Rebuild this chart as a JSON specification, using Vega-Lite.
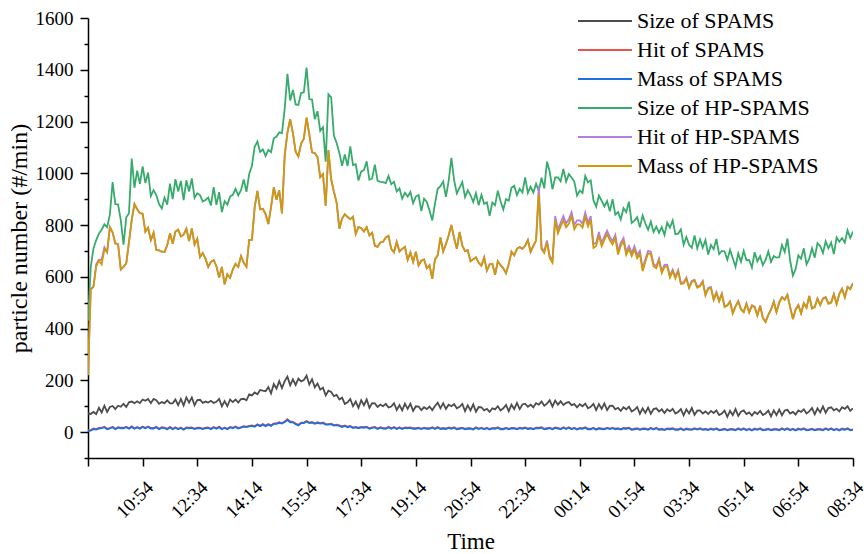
{
  "$schema": "https://vega.github.io/schema/vega-lite/v6.json",
  "width": 765,
  "height": 440,
  "autosize": {"type": "none"},
  "padding": {"left": 88, "top": 18, "right": 14, "bottom": 96},
  "background": "white",
  "config": {
    "view": {"stroke": null},
    "font": "Liberation Serif",
    "axis": {"labelFont": "Liberation Serif", "titleFont": "Liberation Serif"},
    "legend": {"labelFont": "Liberation Serif"}
  },
  "datasets": {
    "series": [
      {"k": "a", "name": "Size of SPAMS"},
      {"k": "b", "name": "Hit of SPAMS"},
      {"k": "c", "name": "Mass of SPAMS"},
      {"k": "d", "name": "Size of HP-SPAMS"},
      {"k": "e", "name": "Hit of HP-SPAMS"},
      {"k": "f", "name": "Mass of HP-SPAMS"}
    ]
  },
  "data": {"values": [
{"m":0,"a":72,"b":7,"c":5,"d":430,"e":222,"f":220},
{"m":5,"a":70,"b":8,"c":6,"d":637,"e":552,"f":550},
{"m":10,"a":78,"b":14,"c":12,"d":710,"e":563,"f":561},
{"m":15,"a":70,"b":12,"c":10,"d":742,"e":648,"f":640},
{"m":20,"a":94,"b":16,"c":14,"d":767,"e":666,"f":663},
{"m":25,"a":76,"b":17,"c":15,"d":782,"e":666,"f":648},
{"m":30,"a":102,"b":21,"c":19,"d":803,"e":714,"f":707},
{"m":35,"a":78,"b":13,"c":11,"d":792,"e":695,"f":695},
{"m":40,"a":97,"b":16,"c":14,"d":840,"e":793,"f":790},
{"m":45,"a":101,"b":21,"c":19,"d":966,"e":772,"f":772},
{"m":50,"a":89,"b":13,"c":11,"d":881,"e":729,"f":729},
{"m":55,"a":102,"b":19,"c":17,"d":880,"e":727,"f":727},
{"m":60,"a":98,"b":17,"c":15,"d":819,"e":628,"f":628},
{"m":65,"a":109,"b":17,"c":15,"d":724,"e":638,"f":638},
{"m":70,"a":97,"b":21,"c":19,"d":830,"e":652,"f":652},
{"m":75,"a":115,"b":15,"c":13,"d":846,"e":734,"f":734},
{"m":80,"a":118,"b":22,"c":20,"d":1057,"e":820,"f":820},
{"m":85,"a":112,"b":15,"c":13,"d":944,"e":882,"f":880},
{"m":90,"a":119,"b":20,"c":18,"d":1010,"e":861,"f":861},
{"m":95,"a":112,"b":15,"c":13,"d":959,"e":846,"f":846},
{"m":100,"a":126,"b":22,"c":20,"d":1027,"e":844,"f":844},
{"m":105,"a":121,"b":17,"c":15,"d":962,"e":775,"f":775},
{"m":110,"a":128,"b":22,"c":20,"d":1003,"e":790,"f":790},
{"m":115,"a":112,"b":16,"c":14,"d":912,"e":742,"f":742},
{"m":120,"a":128,"b":16,"c":14,"d":935,"e":770,"f":770},
{"m":125,"a":123,"b":21,"c":19,"d":916,"e":704,"f":704},
{"m":130,"a":109,"b":13,"c":11,"d":881,"e":702,"f":702},
{"m":135,"a":116,"b":19,"c":17,"d":864,"e":697,"f":697},
{"m":140,"a":112,"b":17,"c":15,"d":906,"e":696,"f":696},
{"m":145,"a":123,"b":13,"c":11,"d":879,"e":722,"f":722},
{"m":150,"a":111,"b":20,"c":18,"d":960,"e":768,"f":768},
{"m":155,"a":111,"b":13,"c":11,"d":900,"e":728,"f":728},
{"m":160,"a":126,"b":19,"c":17,"d":977,"e":775,"f":775},
{"m":165,"a":104,"b":13,"c":11,"d":930,"e":782,"f":782},
{"m":170,"a":128,"b":18,"c":16,"d":970,"e":756,"f":756},
{"m":175,"a":103,"b":11,"c":9,"d":896,"e":763,"f":763},
{"m":180,"a":134,"b":18,"c":16,"d":973,"e":786,"f":786},
{"m":185,"a":114,"b":17,"c":15,"d":930,"e":738,"f":738},
{"m":190,"a":134,"b":18,"c":16,"d":980,"e":787,"f":787},
{"m":195,"a":104,"b":14,"c":12,"d":905,"e":725,"f":725},
{"m":200,"a":124,"b":17,"c":15,"d":923,"e":747,"f":747},
{"m":205,"a":125,"b":17,"c":15,"d":916,"e":676,"f":676},
{"m":210,"a":113,"b":14,"c":12,"d":891,"e":692,"f":692},
{"m":215,"a":118,"b":17,"c":15,"d":897,"e":670,"f":670},
{"m":220,"a":114,"b":18,"c":16,"d":906,"e":638,"f":638},
{"m":225,"a":121,"b":13,"c":11,"d":876,"e":658,"f":658},
{"m":230,"a":113,"b":20,"c":18,"d":947,"e":665,"f":665},
{"m":235,"a":117,"b":15,"c":13,"d":878,"e":641,"f":641},
{"m":240,"a":128,"b":21,"c":19,"d":927,"e":597,"f":597},
{"m":245,"a":100,"b":13,"c":11,"d":850,"e":638,"f":638},
{"m":250,"a":120,"b":18,"c":16,"d":892,"e":571,"f":571},
{"m":255,"a":100,"b":13,"c":11,"d":879,"e":610,"f":610},
{"m":260,"a":126,"b":20,"c":18,"d":910,"e":596,"f":596},
{"m":265,"a":116,"b":17,"c":15,"d":917,"e":628,"f":628},
{"m":270,"a":126,"b":22,"c":20,"d":940,"e":650,"f":650},
{"m":275,"a":114,"b":16,"c":14,"d":915,"e":638,"f":638},
{"m":280,"a":128,"b":19,"c":17,"d":935,"e":680,"f":680},
{"m":285,"a":129,"b":23,"c":21,"d":976,"e":654,"f":654},
{"m":290,"a":123,"b":21,"c":19,"d":928,"e":639,"f":639},
{"m":295,"a":146,"b":24,"c":22,"d":997,"e":743,"f":743},
{"m":300,"a":142,"b":26,"c":24,"d":1029,"e":743,"f":743},
{"m":305,"a":153,"b":23,"c":21,"d":1102,"e":868,"f":868},
{"m":310,"a":146,"b":30,"c":28,"d":1123,"e":932,"f":932},
{"m":315,"a":163,"b":25,"c":23,"d":1083,"e":861,"f":861},
{"m":320,"a":160,"b":31,"c":29,"d":1092,"e":863,"f":863},
{"m":325,"a":158,"b":25,"c":23,"d":1067,"e":842,"f":842},
{"m":330,"a":174,"b":31,"c":29,"d":1090,"e":804,"f":804},
{"m":335,"a":150,"b":26,"c":24,"d":1082,"e":870,"f":870},
{"m":340,"a":186,"b":34,"c":32,"d":1135,"e":946,"f":946},
{"m":345,"a":168,"b":34,"c":32,"d":1142,"e":898,"f":898},
{"m":350,"a":197,"b":38,"c":36,"d":1158,"e":934,"f":934},
{"m":355,"a":170,"b":35,"c":33,"d":1155,"e":845,"f":845},
{"m":360,"a":197,"b":41,"c":39,"d":1250,"e":1070,"f":1070},
{"m":365,"a":214,"b":50,"c":47,"d":1384,"e":1157,"f":1157},
{"m":370,"a":181,"b":41,"c":38,"d":1281,"e":1209,"f":1209},
{"m":375,"a":204,"b":40,"c":38,"d":1322,"e":1155,"f":1155},
{"m":380,"a":182,"b":33,"c":31,"d":1266,"e":1083,"f":1083},
{"m":385,"a":207,"b":28,"c":26,"d":1264,"e":1065,"f":1065},
{"m":390,"a":196,"b":37,"c":35,"d":1310,"e":1115,"f":1115},
{"m":395,"a":201,"b":37,"c":35,"d":1313,"e":1134,"f":1134},
{"m":400,"a":218,"b":43,"c":41,"d":1408,"e":1215,"f":1215},
{"m":405,"a":184,"b":37,"c":35,"d":1287,"e":1150,"f":1150},
{"m":410,"a":204,"b":39,"c":37,"d":1285,"e":1081,"f":1081},
{"m":415,"a":173,"b":34,"c":32,"d":1209,"e":1078,"f":1078},
{"m":420,"a":188,"b":38,"c":36,"d":1240,"e":1063,"f":1063},
{"m":425,"a":164,"b":35,"c":33,"d":1164,"e":985,"f":985},
{"m":430,"a":172,"b":37,"c":35,"d":1178,"e":997,"f":997},
{"m":435,"a":142,"b":31,"c":29,"d":1045,"e":875,"f":875},
{"m":440,"a":160,"b":31,"c":29,"d":1305,"e":1090,"f":1090},
{"m":445,"a":155,"b":33,"c":31,"d":1293,"e":977,"f":977},
{"m":450,"a":139,"b":27,"c":25,"d":1146,"e":929,"f":929},
{"m":455,"a":144,"b":29,"c":27,"d":1117,"e":887,"f":887},
{"m":460,"a":126,"b":26,"c":24,"d":1079,"e":786,"f":786},
{"m":465,"a":133,"b":22,"c":20,"d":1029,"e":825,"f":825},
{"m":470,"a":109,"b":26,"c":24,"d":1073,"e":842,"f":842},
{"m":475,"a":115,"b":21,"c":19,"d":1028,"e":831,"f":831},
{"m":480,"a":128,"b":24,"c":22,"d":1104,"e":823,"f":823},
{"m":485,"a":100,"b":18,"c":16,"d":1032,"e":832,"f":832},
{"m":490,"a":118,"b":20,"c":18,"d":1035,"e":766,"f":766},
{"m":495,"a":94,"b":17,"c":15,"d":972,"e":793,"f":793},
{"m":500,"a":123,"b":20,"c":18,"d":1007,"e":788,"f":788},
{"m":505,"a":104,"b":19,"c":17,"d":1012,"e":775,"f":775},
{"m":510,"a":126,"b":21,"c":19,"d":1046,"e":792,"f":792},
{"m":515,"a":94,"b":15,"c":13,"d":975,"e":760,"f":760},
{"m":520,"a":112,"b":18,"c":16,"d":980,"e":770,"f":770},
{"m":525,"a":111,"b":20,"c":18,"d":1033,"e":720,"f":720},
{"m":530,"a":97,"b":14,"c":12,"d":971,"e":716,"f":716},
{"m":535,"a":106,"b":19,"c":17,"d":967,"e":733,"f":733},
{"m":540,"a":100,"b":16,"c":14,"d":966,"e":736,"f":736},
{"m":545,"a":109,"b":15,"c":13,"d":962,"e":752,"f":752},
{"m":550,"a":95,"b":21,"c":19,"d":990,"e":758,"f":758},
{"m":555,"a":99,"b":15,"c":13,"d":958,"e":708,"f":708},
{"m":560,"a":112,"b":20,"c":18,"d":967,"e":695,"f":695},
{"m":565,"a":86,"b":14,"c":12,"d":930,"e":735,"f":735},
{"m":570,"a":104,"b":19,"c":17,"d":942,"e":698,"f":698},
{"m":575,"a":84,"b":14,"c":12,"d":902,"e":708,"f":708},
{"m":580,"a":110,"b":18,"c":16,"d":925,"e":716,"f":716},
{"m":585,"a":90,"b":17,"c":15,"d":910,"e":665,"f":665},
{"m":590,"a":110,"b":18,"c":16,"d":928,"e":694,"f":694},
{"m":595,"a":82,"b":15,"c":13,"d":885,"e":658,"f":658},
{"m":600,"a":100,"b":15,"c":13,"d":910,"e":697,"f":697},
{"m":605,"a":99,"b":17,"c":15,"d":916,"e":644,"f":644},
{"m":610,"a":85,"b":14,"c":12,"d":854,"e":662,"f":662},
{"m":615,"a":96,"b":17,"c":15,"d":902,"e":667,"f":667},
{"m":620,"a":89,"b":15,"c":13,"d":889,"e":633,"f":633},
{"m":625,"a":99,"b":15,"c":13,"d":856,"e":645,"f":645},
{"m":630,"a":85,"b":19,"c":17,"d":818,"e":592,"f":592},
{"m":635,"a":101,"b":14,"c":12,"d":883,"e":668,"f":668},
{"m":640,"a":114,"b":20,"c":18,"d":940,"e":683,"f":683},
{"m":645,"a":92,"b":14,"c":12,"d":950,"e":752,"f":752},
{"m":650,"a":112,"b":16,"c":14,"d":968,"e":698,"f":698},
{"m":655,"a":90,"b":14,"c":12,"d":909,"e":726,"f":726},
{"m":660,"a":106,"b":18,"c":16,"d":970,"e":760,"f":760},
{"m":665,"a":100,"b":15,"c":13,"d":1060,"e":800,"f":800},
{"m":670,"a":108,"b":19,"c":17,"d":973,"e":750,"f":750},
{"m":675,"a":92,"b":13,"c":11,"d":922,"e":708,"f":708},
{"m":680,"a":98,"b":15,"c":13,"d":945,"e":773,"f":773},
{"m":685,"a":109,"b":17,"c":15,"d":966,"e":720,"f":720},
{"m":690,"a":81,"b":13,"c":11,"d":908,"e":699,"f":699},
{"m":695,"a":104,"b":15,"c":13,"d":934,"e":703,"f":703},
{"m":700,"a":84,"b":15,"c":13,"d":916,"e":660,"f":660},
{"m":705,"a":107,"b":12,"c":10,"d":889,"e":668,"f":668},
{"m":710,"a":79,"b":19,"c":17,"d":923,"e":675,"f":675},
{"m":715,"a":97,"b":14,"c":12,"d":876,"e":654,"f":654},
{"m":720,"a":96,"b":17,"c":15,"d":917,"e":643,"f":643},
{"m":725,"a":84,"b":13,"c":11,"d":882,"e":675,"f":675},
{"m":730,"a":90,"b":17,"c":15,"d":888,"e":624,"f":624},
{"m":735,"a":78,"b":12,"c":10,"d":836,"e":648,"f":648},
{"m":740,"a":92,"b":16,"c":14,"d":887,"e":650,"f":650},
{"m":745,"a":88,"b":15,"c":13,"d":877,"e":608,"f":608},
{"m":750,"a":100,"b":19,"c":17,"d":933,"e":660,"f":660},
{"m":755,"a":84,"b":13,"c":11,"d":892,"e":645,"f":645},
{"m":760,"a":92,"b":13,"c":11,"d":860,"e":633,"f":633},
{"m":765,"a":105,"b":17,"c":15,"d":900,"e":614,"f":614},
{"m":770,"a":81,"b":13,"c":11,"d":894,"e":649,"f":649},
{"m":775,"a":106,"b":16,"c":14,"d":944,"e":697,"f":697},
{"m":780,"a":89,"b":16,"c":14,"d":952,"e":683,"f":683},
{"m":785,"a":113,"b":13,"c":11,"d":916,"e":708,"f":708},
{"m":790,"a":89,"b":17,"c":15,"d":940,"e":715,"f":715},
{"m":795,"a":107,"b":15,"c":13,"d":926,"e":708,"f":708},
{"m":800,"a":110,"b":18,"c":16,"d":984,"e":720,"f":720},
{"m":805,"a":98,"b":14,"c":12,"d":924,"e":742,"f":742},
{"m":810,"a":106,"b":16,"c":14,"d":948,"e":696,"f":696},
{"m":815,"a":96,"b":13,"c":11,"d":926,"e":720,"f":720},
{"m":820,"a":112,"b":17,"c":15,"d":960,"e":740,"f":740},
{"m":825,"a":106,"b":17,"c":15,"d":932,"e":950,"f":920},
{"m":830,"a":118,"b":19,"c":17,"d":983,"e":712,"f":707},
{"m":835,"a":102,"b":13,"c":11,"d":942,"e":700,"f":692},
{"m":840,"a":110,"b":15,"c":13,"d":1045,"e":740,"f":733},
{"m":845,"a":123,"b":17,"c":15,"d":1006,"e":680,"f":672},
{"m":850,"a":99,"b":13,"c":11,"d":938,"e":664,"f":654},
{"m":855,"a":122,"b":18,"c":16,"d":984,"e":835,"f":820},
{"m":860,"a":106,"b":16,"c":14,"d":984,"e":782,"f":768},
{"m":865,"a":119,"b":13,"c":11,"d":969,"e":810,"f":795},
{"m":870,"a":105,"b":19,"c":17,"d":1017,"e":835,"f":818},
{"m":875,"a":113,"b":14,"c":12,"d":968,"e":806,"f":791},
{"m":880,"a":116,"b":19,"c":17,"d":997,"e":822,"f":805},
{"m":885,"a":104,"b":13,"c":11,"d":984,"e":850,"f":835},
{"m":890,"a":108,"b":17,"c":15,"d":968,"e":800,"f":784},
{"m":895,"a":96,"b":12,"c":10,"d":914,"e":818,"f":803},
{"m":900,"a":108,"b":16,"c":14,"d":933,"e":818,"f":803},
{"m":905,"a":100,"b":15,"c":13,"d":924,"e":805,"f":790},
{"m":910,"a":110,"b":19,"c":17,"d":990,"e":848,"f":832},
{"m":915,"a":92,"b":13,"c":11,"d":965,"e":810,"f":795},
{"m":920,"a":98,"b":13,"c":11,"d":973,"e":835,"f":820},
{"m":925,"a":109,"b":17,"c":15,"d":896,"e":726,"f":712},
{"m":930,"a":85,"b":11,"c":9,"d":871,"e":732,"f":719},
{"m":935,"a":108,"b":16,"c":14,"d":914,"e":773,"f":760},
{"m":940,"a":90,"b":14,"c":12,"d":894,"e":730,"f":718},
{"m":945,"a":111,"b":13,"c":11,"d":872,"e":756,"f":743},
{"m":950,"a":85,"b":17,"c":15,"d":893,"e":778,"f":765},
{"m":955,"a":101,"b":14,"c":12,"d":853,"e":754,"f":741},
{"m":960,"a":102,"b":17,"c":15,"d":900,"e":738,"f":725},
{"m":965,"a":88,"b":13,"c":11,"d":840,"e":762,"f":750},
{"m":970,"a":94,"b":15,"c":13,"d":850,"e":698,"f":686},
{"m":975,"a":82,"b":12,"c":10,"d":822,"e":732,"f":720},
{"m":980,"a":96,"b":16,"c":14,"d":865,"e":750,"f":738},
{"m":985,"a":88,"b":15,"c":13,"d":850,"e":697,"f":685},
{"m":990,"a":98,"b":17,"c":15,"d":890,"e":719,"f":707},
{"m":995,"a":80,"b":11,"c":9,"d":808,"e":692,"f":680},
{"m":1000,"a":86,"b":13,"c":11,"d":817,"e":718,"f":706},
{"m":1005,"a":97,"b":15,"c":13,"d":830,"e":684,"f":672},
{"m":1010,"a":71,"b":11,"c":9,"d":791,"e":700,"f":688},
{"m":1015,"a":92,"b":14,"c":12,"d":837,"e":634,"f":622},
{"m":1020,"a":74,"b":14,"c":12,"d":806,"e":668,"f":658},
{"m":1025,"a":95,"b":11,"c":9,"d":782,"e":700,"f":691},
{"m":1030,"a":71,"b":17,"c":15,"d":813,"e":697,"f":688},
{"m":1035,"a":89,"b":12,"c":10,"d":773,"e":650,"f":641},
{"m":1040,"a":92,"b":17,"c":15,"d":794,"e":641,"f":633},
{"m":1045,"a":80,"b":11,"c":9,"d":770,"e":671,"f":663},
{"m":1050,"a":88,"b":13,"c":11,"d":792,"e":622,"f":614},
{"m":1055,"a":74,"b":10,"c":8,"d":762,"e":646,"f":638},
{"m":1060,"a":88,"b":14,"c":12,"d":810,"e":647,"f":640},
{"m":1065,"a":80,"b":13,"c":11,"d":790,"e":604,"f":597},
{"m":1070,"a":90,"b":15,"c":13,"d":818,"e":628,"f":622},
{"m":1075,"a":72,"b":11,"c":9,"d":765,"e":600,"f":594},
{"m":1080,"a":78,"b":11,"c":9,"d":767,"e":626,"f":621},
{"m":1085,"a":89,"b":15,"c":13,"d":783,"e":577,"f":572},
{"m":1090,"a":65,"b":9,"c":7,"d":724,"e":578,"f":574},
{"m":1095,"a":88,"b":14,"c":12,"d":754,"e":597,"f":593},
{"m":1100,"a":72,"b":12,"c":10,"d":724,"e":560,"f":556},
{"m":1105,"a":93,"b":11,"c":9,"d":712,"e":584,"f":580},
{"m":1110,"a":67,"b":15,"c":13,"d":760,"e":589,"f":585},
{"m":1115,"a":83,"b":12,"c":10,"d":710,"e":562,"f":558},
{"m":1120,"a":84,"b":15,"c":13,"d":744,"e":567,"f":563},
{"m":1125,"a":72,"b":11,"c":9,"d":712,"e":584,"f":580},
{"m":1130,"a":80,"b":13,"c":11,"d":742,"e":532,"f":528},
{"m":1135,"a":70,"b":10,"c":8,"d":686,"e":557,"f":553},
{"m":1140,"a":82,"b":14,"c":12,"d":723,"e":561,"f":557},
{"m":1145,"a":74,"b":11,"c":9,"d":707,"e":514,"f":510},
{"m":1150,"a":84,"b":15,"c":13,"d":746,"e":541,"f":538},
{"m":1155,"a":66,"b":9,"c":7,"d":688,"e":508,"f":505},
{"m":1160,"a":72,"b":11,"c":9,"d":700,"e":536,"f":533},
{"m":1165,"a":83,"b":13,"c":11,"d":698,"e":486,"f":483},
{"m":1170,"a":59,"b":9,"c":7,"d":666,"e":491,"f":489},
{"m":1175,"a":82,"b":12,"c":10,"d":704,"e":505,"f":503},
{"m":1180,"a":66,"b":12,"c":10,"d":672,"e":460,"f":458},
{"m":1185,"a":89,"b":9,"c":7,"d":639,"e":487,"f":485},
{"m":1190,"a":63,"b":15,"c":13,"d":690,"e":507,"f":505},
{"m":1195,"a":79,"b":10,"c":8,"d":658,"e":476,"f":474},
{"m":1200,"a":84,"b":15,"c":13,"d":700,"e":465,"f":463},
{"m":1205,"a":70,"b":9,"c":7,"d":664,"e":497,"f":495},
{"m":1210,"a":76,"b":13,"c":11,"d":665,"e":464,"f":462},
{"m":1215,"a":64,"b":8,"c":6,"d":636,"e":490,"f":488},
{"m":1220,"a":78,"b":14,"c":12,"d":695,"e":485,"f":483},
{"m":1225,"a":70,"b":11,"c":9,"d":660,"e":452,"f":450},
{"m":1230,"a":82,"b":15,"c":13,"d":680,"e":489,"f":487},
{"m":1235,"a":66,"b":9,"c":7,"d":645,"e":442,"f":440},
{"m":1240,"a":72,"b":11,"c":9,"d":665,"e":427,"f":425},
{"m":1245,"a":83,"b":13,"c":11,"d":698,"e":454,"f":452},
{"m":1250,"a":61,"b":9,"c":7,"d":658,"e":474,"f":472},
{"m":1255,"a":84,"b":12,"c":10,"d":680,"e":505,"f":503},
{"m":1260,"a":66,"b":12,"c":10,"d":674,"e":465,"f":463},
{"m":1265,"a":87,"b":9,"c":7,"d":676,"e":502,"f":500},
{"m":1270,"a":65,"b":15,"c":13,"d":723,"e":522,"f":520},
{"m":1275,"a":83,"b":10,"c":8,"d":696,"e":513,"f":511},
{"m":1280,"a":86,"b":15,"c":13,"d":748,"e":532,"f":530},
{"m":1285,"a":72,"b":9,"c":7,"d":662,"e":484,"f":482},
{"m":1290,"a":78,"b":13,"c":11,"d":605,"e":438,"f":436},
{"m":1295,"a":68,"b":8,"c":6,"d":630,"e":475,"f":473},
{"m":1300,"a":84,"b":14,"c":12,"d":683,"e":492,"f":490},
{"m":1305,"a":78,"b":11,"c":9,"d":670,"e":460,"f":458},
{"m":1310,"a":88,"b":15,"c":13,"d":710,"e":499,"f":497},
{"m":1315,"a":72,"b":9,"c":7,"d":648,"e":482,"f":480},
{"m":1320,"a":80,"b":11,"c":9,"d":670,"e":527,"f":525},
{"m":1325,"a":93,"b":13,"c":11,"d":710,"e":479,"f":477},
{"m":1330,"a":69,"b":9,"c":7,"d":674,"e":484,"f":482},
{"m":1335,"a":92,"b":12,"c":10,"d":730,"e":517,"f":515},
{"m":1340,"a":76,"b":12,"c":10,"d":719,"e":492,"f":490},
{"m":1345,"a":99,"b":9,"c":7,"d":692,"e":517,"f":515},
{"m":1350,"a":75,"b":15,"c":13,"d":737,"e":522,"f":520},
{"m":1355,"a":93,"b":10,"c":8,"d":710,"e":498,"f":496},
{"m":1360,"a":96,"b":15,"c":13,"d":732,"e":502,"f":500},
{"m":1365,"a":84,"b":9,"c":7,"d":688,"e":534,"f":532},
{"m":1370,"a":90,"b":13,"c":11,"d":752,"e":496,"f":494},
{"m":1375,"a":80,"b":8,"c":6,"d":736,"e":535,"f":533},
{"m":1380,"a":96,"b":14,"c":12,"d":750,"e":555,"f":553},
{"m":1385,"a":90,"b":11,"c":9,"d":732,"e":522,"f":520},
{"m":1390,"a":100,"b":15,"c":13,"d":780,"e":562,"f":560},
{"m":1395,"a":82,"b":9,"c":7,"d":750,"e":554,"f":552},
{"m":1400,"a":92,"b":11,"c":9,"d":775,"e":577,"f":575}
  ]},
  "transform": [
    {"fold": ["a", "b", "c", "d", "e", "f"], "as": ["k", "v"]},
    {"lookup": "k", "from": {"data": {"name": "series"}, "key": "k", "fields": ["name"]}}
  ],
  "mark": {"type": "line", "strokeWidth": 1.8, "clip": true},
  "encoding": {
    "x": {
      "field": "m",
      "type": "quantitative",
      "scale": {"domain": [0, 1400], "nice": false, "zero": false},
      "axis": {
        "values": [0, 100, 200, 300, 400, 500, 600, 700, 800, 900, 1000, 1100, 1200, 1300, 1400],
        "labelExpr": "datum.value == 0 ? '' : timeFormat(datetime(2021, 5, 1, 9, 14 + datum.value), '%H:%M')",
        "labelAngle": -45,
        "labelAlign": "right",
        "labelBaseline": "middle",
        "labelOffset": 7,
        "labelPadding": 18,
        "labelFont": "Liberation Serif",
        "labelFontSize": 19,
        "labelColor": "black",
        "labelOverlap": false,
        "tickSize": 8,
        "tickWidth": 1.5,
        "tickColor": "black",
        "domainColor": "black",
        "domainWidth": 1.5,
        "grid": false,
        "title": "Time",
        "titleFont": "Liberation Serif",
        "titleFontSize": 23,
        "titleFontWeight": "normal",
        "titleColor": "black",
        "titleBaseline": "alphabetic",
        "titleY": 90
      }
    },
    "y": {
      "field": "v",
      "type": "quantitative",
      "scale": {"domain": [-100, 1600], "nice": false, "zero": false},
      "axis": {
        "values": [-100, 0, 100, 200, 300, 400, 500, 600, 700, 800, 900, 1000, 1100, 1200, 1300, 1400, 1500, 1600],
        "format": "d",
        "labelExpr": "datum.value % 200 === 0 ? datum.label : ''",
        "labelFont": "Liberation Serif",
        "labelFontSize": 19,
        "labelColor": "black",
        "labelPadding": 7,
        "labelOverlap": false,
        "tickSize": {"condition": {"test": "datum.value % 200 === 0", "value": 8}, "value": 4},
        "tickWidth": 1.5,
        "tickColor": "black",
        "domainColor": "black",
        "domainWidth": 1.5,
        "grid": false,
        "title": "particle number (#/min)",
        "titleFont": "Liberation Serif",
        "titleFontSize": 24,
        "titleFontWeight": "normal",
        "titleColor": "black",
        "titleBaseline": "alphabetic",
        "titleX": -62,
        "titleY": 220
      }
    },
    "color": {
      "field": "name",
      "type": "nominal",
      "scale": {
        "domain": ["Size of SPAMS", "Hit of SPAMS", "Mass of SPAMS", "Size of HP-SPAMS", "Hit of HP-SPAMS", "Mass of HP-SPAMS"],
        "range": ["#4d4d4d", "#e8524f", "#1f6fe0", "#37ab6b", "#b27ee3", "#cf9908"]
      },
      "legend": {
        "orient": "none",
        "legendX": 506,
        "legendY": -8,
        "padding": 0,
        "title": null,
        "symbolType": "M-5.4,0H5.4",
        "symbolSize": 100,
        "symbolStrokeWidth": 2,
        "labelFont": "Liberation Serif",
        "labelFontSize": 22,
        "labelColor": "black",
        "labelLimit": 400,
        "labelOffset": 21,
        "rowPadding": 7
      }
    }
  }
}
